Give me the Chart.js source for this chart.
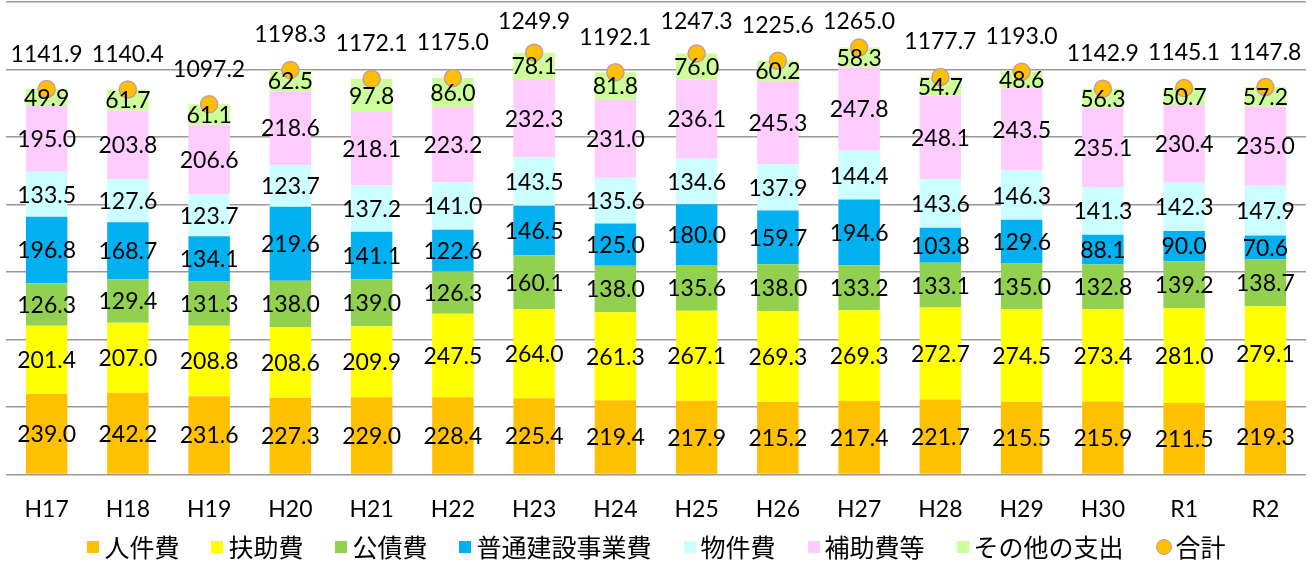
<!DOCTYPE html>
<html>
<head>
<meta charset="utf-8">
<script src="https://cdn.jsdelivr.net/npm/chart.js@4.4.0/dist/chart.umd.min.js"></script>
<style>
html,body{margin:0;padding:0;background:#fff;}
#wrap{position:relative;width:1313px;height:562px;}
#legend{position:absolute;left:0;top:531px;width:1313px;height:31px;display:flex;justify-content:center;align-items:center;
  font-family:'Noto Sans CJK JP',sans-serif;font-size:25px;color:#000;line-height:31px;}
#legend .item{display:flex;align-items:center;margin:0 16px;}
#legend .box{display:inline-block;width:12px;height:12px;margin-right:5px;}
#legend .dot{display:inline-block;width:14px;height:14px;border-radius:50%;margin-right:4px;box-sizing:content-box;}
</style>
</head>
<body>
<div id="wrap"><canvas id="mychart"></canvas><div id="legend"></div></div>
<script>
var years = ["H17","H18","H19","H20","H21","H22","H23","H24","H25","H26","H27","H28","H29","H30","R1","R2"];
var jinken  = [239.0,242.2,231.6,227.3,229.0,228.4,225.4,219.4,217.9,215.2,217.4,221.7,215.5,215.9,211.5,219.3];
var fujo    = [201.4,207.0,208.8,208.6,209.9,247.5,264.0,261.3,267.1,269.3,269.3,272.7,274.5,273.4,281.0,279.1];
var kousai  = [126.3,129.4,131.3,138.0,139.0,126.3,160.1,138.0,135.6,138.0,133.2,133.1,135.0,132.8,139.2,138.7];
var kensetsu= [196.8,168.7,134.1,219.6,141.1,122.6,146.5,125.0,180.0,159.7,194.6,103.8,129.6,88.1,90.0,70.6];
var bukken  = [133.5,127.6,123.7,123.7,137.2,141.0,143.5,135.6,134.6,137.9,144.4,143.6,146.3,141.3,142.3,147.9];
var hojo    = [195.0,203.8,206.6,218.6,218.1,223.2,232.3,231.0,236.1,245.3,247.8,248.1,243.5,235.1,230.4,235.0];
var sonota  = [49.9,61.7,61.1,62.5,97.8,86.0,78.1,81.8,76.0,60.2,58.3,54.7,48.6,56.3,50.7,57.2];
var goukei  = [1141.9,1140.4,1097.2,1198.3,1172.1,1175.0,1249.9,1192.1,1247.3,1225.6,1265.0,1177.7,1193.0,1142.9,1145.1,1147.8];

var numFont = "Lato, 'Liberation Sans', sans-serif";

// draw value labels (bars in the middle, totals above the points)
var valueLabels = {
  id: "valueLabels",
  afterDatasetsDraw: function(chart){
    var ctx = chart.ctx;
    ctx.save();
    ctx.fillStyle = "#000";
    ctx.textAlign = "center";
    ctx.textBaseline = "middle";
    ctx.font = "23px " + numFont;
    chart.data.datasets.forEach(function(ds, i){
      var meta = chart.getDatasetMeta(i);
      meta.data.forEach(function(el, j){
        var v = ds.data[j].toFixed(1);
        if (ds.type === "line") {
          var y = Math.max(el.y - 35, 22);
          ctx.fillText(v, el.x, y);
        } else {
          ctx.fillText(v, el.x, (el.y + el.base) / 2 + 1);
        }
      });
    });
    ctx.restore();
  }
};

function bar(label, data, color){
  return { label: label, data: data, backgroundColor: color, borderWidth: 0, stack: "s" };
}

var mychart = document.getElementById("mychart").getContext("2d");
var chart = new Chart(mychart, {
  type: "bar",
  data: {
    labels: years,
    datasets: [
      bar("人件費", jinken, "#FFC000"),
      bar("扶助費", fujo, "#FFFF00"),
      bar("公債費", kousai, "#92D050"),
      bar("普通建設事業費", kensetsu, "#00B0F0"),
      bar("物件費", bukken, "#CCFFFF"),
      bar("補助費等", hojo, "#FFCCFF"),
      bar("その他の支出", sonota, "#CCFF99"),
      {
        type: "line",
        label: "合計",
        data: goukei,
        stack: "total",
        showLine: false,
        order: -1,
        clip: false,
        pointRadius: 8.5,
        pointHoverRadius: 8.5,
        pointBorderWidth: 1.5,
        pointBackgroundColor: "#FFC000",
        pointBorderColor: "#C99A9E",
        backgroundColor: "#FFC000",
        borderColor: "#C99A9E"
      }
    ]
  },
  options: {
    responsive: true,
    maintainAspectRatio: false,
    animation: false,
    layout: { autoPadding: false, padding: { left: 6, right: 7, top: 2, bottom: 18 } },
    datasets: { bar: { barPercentage: 0.51, categoryPercentage: 1 } },
    scales: {
      x: {
        stacked: true,
        grid: { display: false, drawTicks: false },
        border: { display: false },
        ticks: { color: "#000", font: { size: 23, family: numFont }, padding: 21 }
      },
      y: {
        stacked: true,
        min: 0,
        max: 1400,
        ticks: { display: false, stepSize: 200 },
        grid: { color: "#999", lineWidth: 1.5, drawTicks: false },
        border: { display: false }
      }
    },
    plugins: {
      tooltip: { enabled: false },
      legend: { display: false }
    }
  },
  plugins: [valueLabels]
});

// legend built from the datasets
var lg = document.getElementById("legend");
chart.data.datasets.forEach(function(ds){
  var item = document.createElement("span");
  item.className = "item";
  var mark = document.createElement("span");
  if (ds.type === "line") {
    mark.className = "dot";
    mark.style.background = ds.pointBackgroundColor;
    mark.style.border = "1.5px solid " + ds.pointBorderColor;
  } else {
    mark.className = "box";
    mark.style.background = ds.backgroundColor;
  }
  item.appendChild(mark);
  item.appendChild(document.createTextNode(ds.label));
  lg.appendChild(item);
});
</script>
</body>
</html>
